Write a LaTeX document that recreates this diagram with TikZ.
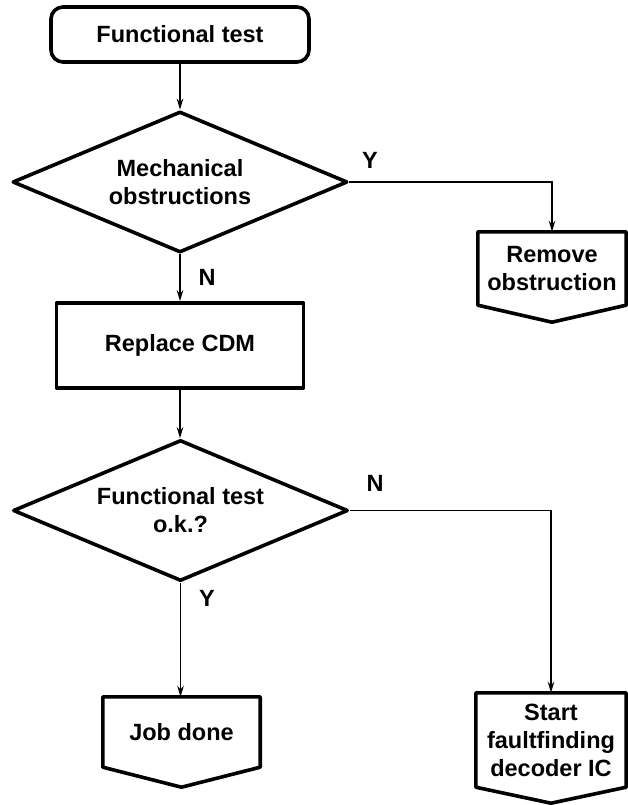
\documentclass[tikz,border=0pt]{standalone}
\usepackage{fontspec}
\setmainfont{Liberation Sans}
\usetikzlibrary{shapes.geometric,arrows.meta,calc}
\begin{document}
\begin{tikzpicture}[x=1pt,y=-1pt,
  font=\fontsize{23.5}{28}\selectfont\bfseries,
  shapeline/.style={draw,line width=3.6pt,line join=round},
  box/.style={shapeline,inner sep=0pt,align=center},
  startbox/.style={box,rounded corners=12pt,minimum width=258pt,minimum height=55pt},
  procbox/.style={box,minimum width=247pt,minimum height=85pt},
  decision/.style={box,shape=diamond,aspect=2.37,minimum width=335pt,minimum height=141pt},
  offpage/.style={align=center,inner sep=0pt},
  lbl/.style={inner sep=0pt},
  flow/.style={line width=1.9pt,-{Stealth[length=11pt,width=6.5pt]}},
]
\useasboundingbox (0,0) rectangle (627,805);

\node[startbox] (start) at (180,34.5) {Functional test};
\node[decision] (d1) at (180,182) {Mechanical\\obstructions};
\node[procbox] (cdm) at (180,345.5) {Replace CDM};
\node[decision] (d2) at (180.5,510.5) {Functional test\\o.k.?};

\node[offpage,minimum width=148pt,minimum height=73pt] (rem) at (552,268.5) {Remove\\obstruction};
\draw[shapeline] (rem.north west) -- (rem.north east) -- (rem.south east) -- ($(rem.south)+(0,17)$) -- (rem.south west) -- cycle;

\node[offpage,minimum width=157pt,minimum height=70pt] (job) at (181.5,732) {\raisebox{-6pt}{Job done}};
\draw[shapeline] (job.north west) -- (job.north east) -- (job.south east) -- ($(job.south)+(0,20)$) -- (job.south west) -- cycle;

\node[offpage,minimum width=150pt,minimum height=94pt] (sff) at (551,740) {Start\\faultfinding\\decoder IC};
\draw[shapeline] (sff.north west) -- (sff.north east) -- (sff.south east) -- ($(sff.south)+(0,16)$) -- (sff.south west) -- cycle;

\draw[flow] (start.south) -- (d1.north);
\draw[flow] (d1.south) -- (cdm.north);
\draw[flow] (cdm.south) -- (cdm.south |- d2.north);
\draw[flow] (d1.east) -| (rem.north);
\draw[flow] (d2.south) -- (d2.south |- job.north);
\draw[flow] (d2.east) -| (sff.north);

\node[lbl] (ly1) at (370,160) {Y};
\node[lbl] (ln1) at (207,277) {N};
\node[lbl] (ln2) at (375,483) {N};
\node[lbl] (ly2) at (207,598) {Y};
\end{tikzpicture}
\end{document}
